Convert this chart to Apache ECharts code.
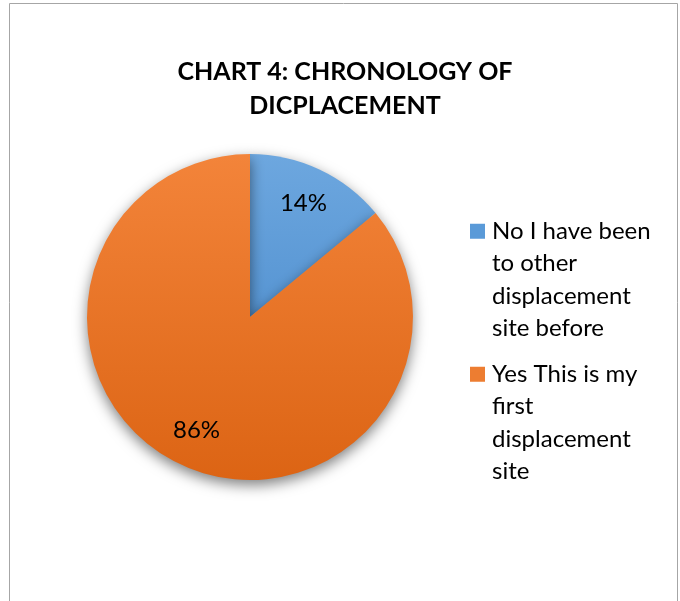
<!DOCTYPE html>
<html>
<head>
<meta charset="utf-8">
<script src="https://cdn.jsdelivr.net/npm/echarts@6/dist/echarts.min.js"></script>
<style>
html,body{margin:0;padding:0;background:#fff;}
#c{width:680px;height:601px;}
</style>
</head>
<body>
<div id="c"></div>
<script>
var titleText = 'CHART 4: CHRONOLOGY OF\nDICPLACEMENT';
var categories = ['No I have been to other displacement site before', 'Yes This is my first displacement site'];
var legendLines = [['No I have been', 'to other', 'displacement', 'site before'], ['Yes This is my', 'first', 'displacement', 'site']];
var values = [14, 86];
var baseColors = ['#5A9AD8', '#ED7D31'];

var FONT = 'Lato, "Open Sans", sans-serif';
var chart = echarts.init(document.getElementById('c'));

var cx = 250, cy = 317, R = 163;

function grad(top, bottom) {
  return new echarts.graphic.LinearGradient(0, cy - R, 0, cy + R, [
    {offset: 0, color: top}, {offset: 1, color: bottom}
  ], true);
}
var fills = [grad('#6DA7DF', '#3F82C6'), grad('#F3843A', '#DC6414')];

var pieData = categories.map(function (c, i) {
  return {name: c, value: values[i], itemStyle: {color: fills[i]}};
});
var labelData = categories.map(function (c, i) {
  return {name: c, value: values[i]};
});

var rich = {
  t: {fontFamily: FONT, fontSize: 24, lineHeight: 32.5, color: '#000'},
  s: {width: 22, height: 13},
  m0: {width: 15, height: 15, backgroundColor: baseColors[0]},
  m1: {width: 15, height: 15, backgroundColor: baseColors[1]},
  g: {width: 7}
};

chart.setOption({
  animation: false,
  backgroundColor: '#fff',
  title: {
    text: titleText,
    left: 340,
    top: 50,
    textAlign: 'center',
    textStyle: {fontFamily: FONT, fontWeight: 'bold', fontSize: 25, lineHeight: 34, color: '#000'}
  },
  legend: {
    orient: 'vertical',
    left: 460,
    top: 210,
    itemWidth: 0,
    itemHeight: 0,
    itemGap: 13,
    icon: 'rect',
    data: categories,
    formatter: function (name) {
      var i = categories.indexOf(name);
      var ls = legendLines[i];
      return ls.map(function (l, k) {
        return (k === 0 ? '{m' + i + '|}{g|}' : '{s|}') + '{t|' + l + '}';
      }).join('\n');
    },
    textStyle: {rich: rich, fontFamily: FONT, fontSize: 24, lineHeight: 32.5}
  },
  graphic: [{
    type: 'rect',
    shape: {x: 9.5, y: 3.5, width: 668, height: 620},
    style: {fill: 'none', stroke: '#a6a6a6', lineWidth: 1},
    silent: true,
    z: -10
  }],
  series: [{
    type: 'pie',
    center: [cx, cy],
    radius: [0, R],
    startAngle: 90,
    clockwise: true,
    silent: true,
    data: pieData,
    label: {show: false},
    labelLine: {show: false},
    itemStyle: {shadowBlur: 14, shadowColor: 'rgba(0,0,0,0.5)', shadowOffsetY: 5, borderWidth: 0}
  }, {
    type: 'pie',
    center: [cx, cy],
    radius: [82, R],
    startAngle: 90,
    clockwise: true,
    silent: true,
    legendHoverLink: false,
    data: labelData,
    itemStyle: {color: 'rgba(0,0,0,0)'},
    label: {
      show: true,
      position: 'inside',
      formatter: '{c}%',
      fontFamily: FONT,
      fontSize: 24,
      color: '#000'
    },
    labelLine: {show: false}
  }]
});
</script>
</body>
</html>
